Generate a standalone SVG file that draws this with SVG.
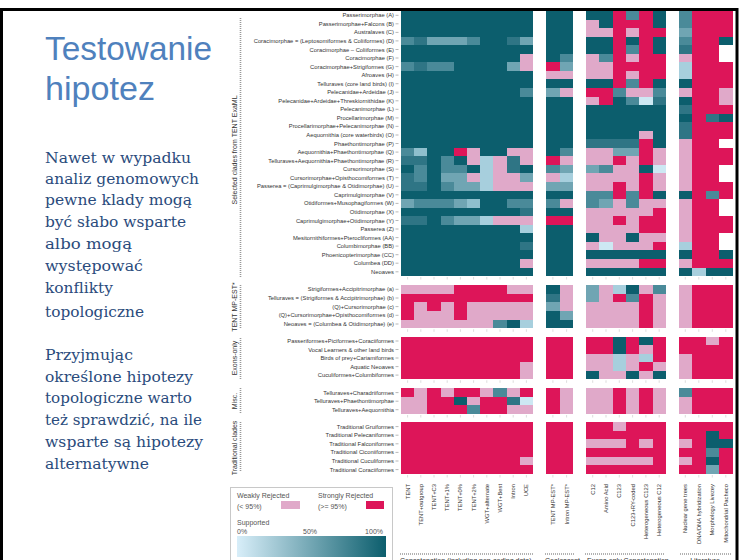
<svg xmlns="http://www.w3.org/2000/svg" xmlns:xlink="http://www.w3.org/1999/xlink" width="742" height="560" viewBox="0 0 742 560">
<style>
.t{fill:#0c5e6d}.md{fill:#2f7585}.m{fill:#4a8a99}.ml{fill:#70a5b3}.l2{fill:#8fbfcd}.lb{fill:#a7cfdd}.vl{fill:#cde8f3}.p{fill:#e0a9c9}.r{fill:#dd1559}.w{fill:#ffffff}
.title{font-family:"Liberation Sans",Arial,sans-serif;font-size:34px;fill:#4f81bd}
.body{font-family:"DejaVu Serif","Liberation Serif",serif;font-size:15px;fill:#2a4b7c}
.rl{font-family:"Liberation Sans",Arial,sans-serif;font-size:5.8px;fill:#333;text-anchor:end;dominant-baseline:central}
.sl{font-family:"Liberation Sans",Arial,sans-serif;font-size:7px;fill:#333;text-anchor:middle}
.cl{font-family:"Liberation Sans",Arial,sans-serif;font-size:5.8px;fill:#333;text-anchor:end}
.lg{font-family:"Liberation Sans",Arial,sans-serif;font-size:7px;fill:#555}
.gl{font-family:"Liberation Sans",Arial,sans-serif;font-size:7px;fill:#333}
.dot{stroke:#999;stroke-width:1.6;stroke-dasharray:1 1;fill:none}
.tick{stroke:#888;stroke-width:0.6;fill:none}
.ctick{stroke:#c4c4c4;stroke-width:0.6;fill:none}
</style>
<defs>
<linearGradient id="grad" x1="0" y1="0" x2="1" y2="0">
<stop offset="0" stop-color="#d8eef9"/>
<stop offset="1" stop-color="#0c5e6d"/>
</linearGradient>
<path id="ct" class="ctick" d="M407.6 0v2.5M420.8 0v2.5M434 0v2.5M447.2 0v2.5M460.4 0v2.5M473.6 0v2.5M486.8 0v2.5M500 0v2.5M513.2 0v2.5M526.4 0v2.5M552.9 0v2.5M566.6 0v2.5M592.7 0v2.5M606 0v2.5M619.3 0v2.5M632.6 0v2.5M645.9 0v2.5M659.2 0v2.5M685.3 0v2.5M698.8 0v2.5M712.3 0v2.5M725.8 0v2.5"/>
</defs>
<rect x="0" y="0" width="742" height="560" fill="#fff"/>
<rect x="1.5" y="9.5" width="735.5" height="600" fill="none" stroke="#000" stroke-width="3"/>

<g id="title">
<text class="title" x="45" y="60" textLength="167" lengthAdjust="spacingAndGlyphs">Testowanie</text>
<text class="title" x="45" y="100" textLength="110" lengthAdjust="spacingAndGlyphs">hipotez</text>
</g>
<g id="body-text">
<text class="body" x="45" y="163" textLength="146" lengthAdjust="spacingAndGlyphs">Nawet w wypadku</text>
<text class="body" x="45" y="184" textLength="154" lengthAdjust="spacingAndGlyphs">analiz genomowych</text>
<text class="body" x="45" y="205" textLength="147" lengthAdjust="spacingAndGlyphs">pewne klady mogą</text>
<text class="body" x="45" y="227" textLength="141" lengthAdjust="spacingAndGlyphs">być słabo wsparte</text>
<text class="body" x="45" y="249" textLength="87" lengthAdjust="spacingAndGlyphs">albo mogą</text>
<text class="body" x="45" y="271" textLength="98" lengthAdjust="spacingAndGlyphs">występować</text>
<text class="body" x="45" y="293" textLength="68" lengthAdjust="spacingAndGlyphs">konflikty</text>
<text class="body" x="45" y="317" textLength="99" lengthAdjust="spacingAndGlyphs">topologiczne</text>
<text class="body" x="45" y="360" textLength="88" lengthAdjust="spacingAndGlyphs">Przyjmując</text>
<text class="body" x="45" y="382" textLength="148" lengthAdjust="spacingAndGlyphs">określone hipotezy</text>
<text class="body" x="45" y="403" textLength="147" lengthAdjust="spacingAndGlyphs">topologiczne warto</text>
<text class="body" x="45" y="425" textLength="157" lengthAdjust="spacingAndGlyphs">też sprawdzić, na ile</text>
<text class="body" x="45" y="447" textLength="158" lengthAdjust="spacingAndGlyphs">wsparte są hipotezy</text>
<text class="body" x="45" y="469" textLength="104" lengthAdjust="spacingAndGlyphs">alternatywne</text>
</g>

<g id="section-labels">
<text class="sl" transform="translate(236.5,150) rotate(-90)">Selected clades from TENT ExaML</text>
<text class="sl" transform="translate(236.5,307) rotate(-90)">TENT MP-EST*</text>
<text class="sl" transform="translate(236.5,358) rotate(-90)">Exons-only</text>
<text class="sl" transform="translate(236.5,401) rotate(-90)">Misc.</text>
<text class="sl" transform="translate(236.5,448) rotate(-90)">Traditional clades</text>
<path class="dot" d="M240.5 18V277M240.5 285V329M240.5 338V380M240.5 388V414M240.5 422V472"/>
</g>

<g id="row-labels">
<text class="rl" x="394" y="15.3">Passerimorphae (A)</text>
<text class="rl" x="394" y="23.8">Passerimorphae+Falcons (B)</text>
<text class="rl" x="394" y="32.4">Australaves (C)</text>
<text class="rl" x="394" y="40.9">Coracimorphae = (Leptosomiformes &amp; Coliiformes) (D)</text>
<text class="rl" x="394" y="49.5">Coracimorphae – Coliiformes (E)</text>
<text class="rl" x="394" y="58.0">Coracimorphae (F)</text>
<text class="rl" x="394" y="66.6">Coracimorphae+Strigiformes (G)</text>
<text class="rl" x="394" y="75.1">Afroaves (H)</text>
<text class="rl" x="394" y="83.7">Telluraves (core land birds) (I)</text>
<text class="rl" x="394" y="92.2">Pelecanidae+Ardeidae (J)</text>
<text class="rl" x="394" y="100.8">Pelecanidae+Ardeidae+Threskiornithidae (K)</text>
<text class="rl" x="394" y="109.3">Pelecanimorphae (L)</text>
<text class="rl" x="394" y="117.9">Procellarimorphae (M)</text>
<text class="rl" x="394" y="126.4">Procellarimorphae+Pelecanimorphae (N)</text>
<text class="rl" x="394" y="135.0">Aequornithia (core waterbirds) (O)</text>
<text class="rl" x="394" y="143.5">Phaethontimorphae (P)</text>
<text class="rl" x="394" y="152.1">Aequornithia+Phaethontimorphae (Q)</text>
<text class="rl" x="394" y="160.6">Telluraves+Aequornithia+Phaethontimorphae (R)</text>
<text class="rl" x="394" y="169.2">Cursorimorphae (S)</text>
<text class="rl" x="394" y="177.7">Cursorimorphae+Opisthocomiformes (T)</text>
<text class="rl" x="394" y="186.3">Passerea = (Caprimulgimorphae &amp; Otidimorphae) (U)</text>
<text class="rl" x="394" y="194.8">Caprimulgimorphae (V)</text>
<text class="rl" x="394" y="203.4">Otidiformes+Musophagiformes (W)</text>
<text class="rl" x="394" y="211.9">Otidimorphae (X)</text>
<text class="rl" x="394" y="220.5">Caprimulgimorphae+Otidimorphae (Y)</text>
<text class="rl" x="394" y="229.0">Passerea (Z)</text>
<text class="rl" x="394" y="237.6">Mesitornithiformes+Pterocliformes (AA)</text>
<text class="rl" x="394" y="246.1">Columbimorphae (BB)</text>
<text class="rl" x="394" y="254.7">Phoenicopterimorphae (CC)</text>
<text class="rl" x="394" y="263.2">Columbea (DD)</text>
<text class="rl" x="394" y="271.8">Neoaves</text>
<text class="rl" x="394" y="289.3">Strigiformes+Accipitrimorphae (a)</text>
<text class="rl" x="394" y="298.0">Telluraves = (Strigiformes &amp; Accipitrimorphae) (b)</text>
<text class="rl" x="394" y="306.6">(Q)+Cursorimorphae (c)</text>
<text class="rl" x="394" y="315.3">(Q)+Cursorimorphae+Opisthocomiformes (d)</text>
<text class="rl" x="394" y="324.0">Neoaves = (Columbea &amp; Otidimorphae) (e)</text>
<text class="rl" x="394" y="341.0">Passeriformes+Piciformes+Coraciiformes</text>
<text class="rl" x="394" y="349.5">Vocal Learners &amp; other land birds</text>
<text class="rl" x="394" y="358.0">Birds of prey+Cariamiformes</text>
<text class="rl" x="394" y="366.6">Aquatic Neoaves</text>
<text class="rl" x="394" y="375.1">Cuculiformes+Columbiformes</text>
<text class="rl" x="394" y="392.6">Telluraves+Charadriiformes</text>
<text class="rl" x="394" y="401.2">Telluraves+Phaethontimorphae</text>
<text class="rl" x="394" y="409.7">Telluraves+Aequornithia</text>
<text class="rl" x="394" y="426.6">Traditional Gruiformes</text>
<text class="rl" x="394" y="435.2">Traditional Pelecaniformes</text>
<text class="rl" x="394" y="443.8">Traditional Falconiformes</text>
<text class="rl" x="394" y="452.4">Traditional Ciconiiformes</text>
<text class="rl" x="394" y="461.0">Traditional Cuculiformes</text>
<text class="rl" x="394" y="469.6">Traditional Coraciiformes</text>
<path class="tick" d="M395.5 15.3h3M395.5 23.8h3M395.5 32.4h3M395.5 40.9h3M395.5 49.5h3M395.5 58h3M395.5 66.6h3M395.5 75.1h3M395.5 83.7h3M395.5 92.2h3M395.5 100.8h3M395.5 109.3h3M395.5 117.9h3M395.5 126.4h3M395.5 135h3M395.5 143.5h3M395.5 152.1h3M395.5 160.6h3M395.5 169.2h3M395.5 177.7h3M395.5 186.3h3M395.5 194.8h3M395.5 203.4h3M395.5 211.9h3M395.5 220.5h3M395.5 229h3M395.5 237.6h3M395.5 246.1h3M395.5 254.7h3M395.5 263.2h3M395.5 271.8h3M395.5 289.3h3M395.5 298h3M395.5 306.6h3M395.5 315.3h3M395.5 324h3M395.5 341h3M395.5 349.5h3M395.5 358h3M395.5 366.6h3M395.5 375.1h3M395.5 392.6h3M395.5 401.2h3M395.5 409.7h3M395.5 426.6h3M395.5 435.2h3M395.5 443.8h3M395.5 452.4h3M395.5 461h3M395.5 469.6h3"/>
</g>

<g id="column-ticks">
<use xlink:href="#ct" href="#ct" y="277"/>
<use xlink:href="#ct" href="#ct" y="329.3"/>
<use xlink:href="#ct" href="#ct" y="380.3"/>
<use xlink:href="#ct" href="#ct" y="415"/>
<use xlink:href="#ct" href="#ct" y="475"/>
</g>

<g id="heatmap" shape-rendering="crispEdges">
<!-- Section 1 -->
<g transform="translate(401,11) scale(13.2,8.55)">
<rect class="t" width="10" height="31"/>
<rect class="m" x="0" y="3" width="1" height="1"/><rect class="md" x="1" y="3" width="1" height="1"/><rect class="ml" x="2" y="3" width="3" height="1"/><rect class="m" x="5" y="3" width="1" height="1"/><rect class="md" x="8" y="3" width="1" height="1"/><rect class="ml" x="9" y="3" width="1" height="1"/>
<rect class="p" x="9" y="5" width="1" height="2"/>
<rect class="m" x="0" y="6" width="1" height="1"/><rect class="md" x="1" y="6" width="1" height="1"/><rect class="m" x="2" y="6" width="2" height="1"/><rect class="ml" x="8" y="6" width="1" height="1"/>
<rect class="m" x="9" y="9" width="1" height="1"/>
<rect class="m" x="0" y="16" width="1" height="1"/><rect class="l2" x="1" y="16" width="1" height="1"/><rect class="r" x="4" y="16" width="1" height="1"/><rect class="p" x="5" y="16" width="1" height="2"/><rect class="p" x="8" y="16" width="2" height="1"/>
<rect class="md" x="0" y="17" width="2" height="1"/><rect class="m" x="3" y="17" width="1" height="1"/><rect class="lb" x="6" y="17" width="1" height="4"/><rect class="p" x="7" y="17" width="1" height="4"/><rect class="md" x="8" y="17" width="1" height="2"/><rect class="p" x="9" y="17" width="1" height="1"/>
<rect class="m" x="1" y="18" width="1" height="1"/><rect class="m" x="3" y="18" width="2" height="1"/>
<rect class="md" x="0" y="19" width="1" height="1"/><rect class="m" x="1" y="19" width="1" height="1"/><rect class="ml" x="3" y="19" width="2" height="1"/><rect class="p" x="5" y="19" width="1" height="1"/><rect class="p" x="8" y="19" width="1" height="2"/><rect class="ml" x="9" y="19" width="1" height="1"/>
<rect class="md" x="0" y="20" width="2" height="1"/><rect class="m" x="3" y="20" width="1" height="1"/><rect class="ml" x="4" y="20" width="2" height="1"/><rect class="p" x="9" y="20" width="1" height="1"/>
<rect class="ml" x="0" y="22" width="1" height="1"/><rect class="m" x="1" y="22" width="3" height="1"/><rect class="ml" x="4" y="22" width="1" height="1"/><rect class="l2" x="5" y="22" width="1" height="1"/><rect class="m" x="8" y="22" width="2" height="1"/>
<rect class="md" x="9" y="23" width="1" height="1"/>
<rect class="md" x="0" y="24" width="2" height="1"/><rect class="m" x="3" y="24" width="1" height="1"/><rect class="ml" x="4" y="24" width="2" height="1"/><rect class="lb" x="6" y="24" width="1" height="1"/><rect class="p" x="7" y="24" width="3" height="1"/>
<rect class="lb" x="9" y="25" width="1" height="1"/>
<rect class="md" x="9" y="27" width="1" height="1"/>
<rect class="p" x="9" y="29" width="1" height="1"/>
</g>
<g transform="translate(546,11) scale(13.7,8.55)">
<rect class="t" width="2" height="31"/>
<rect class="m" x="1" y="5" width="1" height="1"/><rect class="r" x="0" y="6" width="1" height="1"/><rect class="ml" x="1" y="6" width="1" height="1"/><rect class="p" x="0" y="7" width="2" height="1"/>
<rect class="ml" x="0" y="9" width="1" height="1"/><rect class="p" x="1" y="9" width="1" height="1"/>
<rect class="m" x="1" y="16" width="1" height="1"/><rect class="r" x="0" y="17" width="1" height="1"/><rect class="p" x="1" y="17" width="1" height="1"/>
<rect class="m" x="0" y="18" width="1" height="1"/><rect class="ml" x="1" y="18" width="1" height="1"/><rect class="p" x="0" y="19" width="1" height="1"/><rect class="lb" x="1" y="19" width="1" height="1"/>
<rect class="ml" x="0" y="20" width="2" height="1"/><rect class="m" x="0" y="22" width="1" height="1"/><rect class="p" x="1" y="22" width="1" height="1"/><rect class="r" x="0" y="24" width="2" height="1"/>
</g>
<g transform="translate(586,11) scale(13.3,8.55)">
<rect class="t" width="6" height="31"/>
<rect class="r" x="2" y="0" width="1" height="9"/><rect class="r" x="4" y="0" width="1" height="9"/>
<rect class="m" x="3" y="0" width="1" height="1"/>
<rect class="p" x="0" y="1" width="1" height="2"/><rect class="r" x="3" y="1" width="1" height="1"/>
<rect class="p" x="1" y="2" width="1" height="1"/><rect class="p" x="3" y="2" width="1" height="1"/><rect class="r" x="5" y="2" width="1" height="1"/>
<rect class="m" x="3" y="4" width="1" height="1"/>
<rect class="p" x="0" y="5" width="1" height="3"/><rect class="m" x="1" y="5" width="1" height="1"/><rect class="p" x="1" y="6" width="1" height="2"/><rect class="p" x="3" y="5" width="1" height="1"/><rect class="r" x="3" y="6" width="1" height="1"/><rect class="p" x="3" y="7" width="1" height="1"/><rect class="r" x="5" y="5" width="1" height="3"/>
<rect class="m" x="3" y="8" width="1" height="1"/>
<rect class="r" x="0" y="9" width="2" height="1"/><rect class="m" x="2" y="9" width="1" height="1"/><rect class="p" x="3" y="9" width="2" height="1"/><rect class="m" x="5" y="9" width="1" height="1"/>
<rect class="p" x="0" y="10" width="1" height="1"/><rect class="r" x="1" y="10" width="1" height="1"/><rect class="m" x="3" y="10" width="1" height="1"/><rect class="vl" x="4" y="10" width="1" height="1"/><rect class="md" x="5" y="10" width="1" height="1"/>
<rect class="p" x="4" y="14" width="1" height="1"/>
<rect class="md" x="0" y="15" width="4" height="1"/><rect class="r" x="4" y="15" width="1" height="3"/>
<rect class="p" x="0" y="16" width="2" height="2"/><rect class="ml" x="2" y="16" width="2" height="1"/><rect class="p" x="5" y="16" width="1" height="2"/>
<rect class="r" x="2" y="17" width="1" height="1"/><rect class="p" x="3" y="17" width="1" height="1"/>
<rect class="ml" x="0" y="18" width="1" height="1"/><rect class="m" x="1" y="18" width="1" height="1"/><rect class="p" x="2" y="18" width="2" height="1"/><rect class="vl" x="5" y="18" width="1" height="1"/>
<rect class="p" x="0" y="19" width="4" height="2"/><rect class="r" x="4" y="19" width="1" height="3"/><rect class="p" x="5" y="19" width="1" height="2"/><rect class="r" x="2" y="20" width="1" height="2"/>
<rect class="m" x="0" y="21" width="2" height="1"/><rect class="m" x="3" y="21" width="1" height="1"/>
<rect class="m" x="0" y="22" width="1" height="1"/><rect class="ml" x="1" y="22" width="1" height="1"/><rect class="p" x="2" y="22" width="1" height="1"/><rect class="m" x="3" y="22" width="1" height="1"/><rect class="p" x="4" y="22" width="2" height="1"/>
<rect class="p" x="0" y="23" width="5" height="1"/><rect class="r" x="5" y="23" width="1" height="3"/>
<rect class="p" x="0" y="24" width="2" height="2"/><rect class="r" x="2" y="24" width="1" height="1"/><rect class="p" x="3" y="24" width="1" height="2"/><rect class="r" x="4" y="24" width="1" height="2"/><rect class="p" x="2" y="25" width="1" height="1"/>
<rect class="p" x="1" y="26" width="2" height="1"/><rect class="p" x="4" y="26" width="2" height="1"/>
<rect class="p" x="0" y="27" width="1" height="1"/><rect class="vl" x="1" y="27" width="1" height="1"/><rect class="p" x="2" y="27" width="3" height="1"/><rect class="r" x="5" y="27" width="1" height="1"/>
<rect class="p" x="0" y="29" width="4" height="1"/><rect class="r" x="4" y="29" width="2" height="1"/>
</g>
<g transform="translate(678.5,11) scale(13.5,8.55)">
<rect class="r" width="4" height="31"/>
<rect class="m" x="0" y="0" width="1" height="2"/><rect class="ml" x="0" y="2" width="1" height="1"/><rect class="m" x="0" y="3" width="1" height="1"/><rect class="md" x="0" y="4" width="1" height="1"/><rect class="p" x="0" y="5" width="1" height="1"/><rect class="lb" x="0" y="6" width="1" height="2"/><rect class="t" x="0" y="8" width="1" height="1"/><rect class="p" x="0" y="9" width="1" height="1"/><rect class="t" x="0" y="10" width="1" height="1"/><rect class="md" x="0" y="11" width="1" height="1"/><rect class="t" x="0" y="12" width="1" height="1"/><rect class="md" x="0" y="13" width="1" height="2"/><rect class="p" x="0" y="15" width="1" height="6"/><rect class="t" x="0" y="21" width="1" height="1"/><rect class="p" x="0" y="22" width="1" height="5"/><rect class="lb" x="0" y="27" width="1" height="1"/><rect class="t" x="0" y="28" width="1" height="1"/><rect class="p" x="0" y="29" width="1" height="1"/><rect class="t" x="0" y="30" width="1" height="1"/>
<rect class="lb" x="1" y="30" width="1" height="1"/><rect class="md" x="2" y="12" width="1" height="1"/><rect class="m" x="2" y="21" width="1" height="1"/><rect class="t" x="2" y="30" width="2" height="1"/>
<rect class="t" x="3" y="3" width="1" height="1"/><rect class="w" x="3" y="4" width="1" height="2"/><rect class="p" x="3" y="9" width="1" height="2"/><rect class="t" x="3" y="12" width="1" height="1"/><rect class="w" x="3" y="15" width="1" height="1"/><rect class="w" x="3" y="18" width="1" height="2"/><rect class="w" x="3" y="22" width="1" height="2"/><rect class="w" x="3" y="26" width="1" height="2"/><rect class="t" x="3" y="28" width="1" height="1"/>
</g>
<!-- Section 2 -->
<g transform="translate(401,285) scale(13.2,8.66)">
<rect class="p" width="10" height="5"/>
<rect class="r" x="4" y="0" width="4" height="1"/><rect class="r" x="0" y="1" width="10" height="1"/><rect class="r" x="0" y="2" width="1" height="2"/><rect class="r" x="2" y="2" width="1" height="1"/><rect class="r" x="4" y="2" width="1" height="2"/>
<rect class="m" x="7" y="4" width="1" height="1"/><rect class="t" x="8" y="4" width="1" height="1"/><rect class="lb" x="9" y="4" width="1" height="1"/>
</g>
<g transform="translate(546,285) scale(13.7,8.66)">
<rect class="t" width="2" height="5"/>
<rect class="md" x="0" y="1" width="1" height="1"/><rect class="ml" x="0" y="2" width="1" height="1"/><rect class="p" x="1" y="0" width="1" height="3"/><rect class="ml" x="1" y="3" width="1" height="1"/>
</g>
<g transform="translate(586,285) scale(13.3,8.66)">
<rect class="p" width="6" height="5"/>
<rect class="ml" x="0" y="0" width="1" height="2"/><rect class="lb" x="2" y="0" width="1" height="1"/><rect class="t" x="3" y="0" width="1" height="1"/><rect class="m" x="5" y="0" width="1" height="1"/>
<rect class="r" x="2" y="1" width="1" height="1"/><rect class="m" x="3" y="1" width="1" height="1"/><rect class="r" x="4" y="1" width="1" height="4"/>
</g>
<g transform="translate(678.5,285) scale(13.5,8.66)">
<rect class="r" width="4" height="5"/><rect class="p" width="1" height="5"/>
</g>
<!-- Section 3 -->
<g transform="translate(401,336.7) scale(13.2,8.53)">
<rect class="r" width="10" height="5"/><rect class="p" x="9" y="3" width="1" height="2"/>
</g>
<g transform="translate(546,336.7) scale(13.7,8.53)">
<rect class="r" width="2" height="5"/>
</g>
<g transform="translate(586,336.7) scale(13.3,8.53)">
<rect class="r" width="6" height="5"/>
<rect class="t" x="2" y="0" width="1" height="2"/><rect class="t" x="4" y="0" width="1" height="1"/><rect class="p" x="4" y="1" width="1" height="1"/>
<rect class="p" x="0" y="2" width="2" height="2"/><rect class="lb" x="2" y="2" width="1" height="2"/><rect class="p" x="3" y="2" width="1" height="2"/><rect class="lb" x="4" y="2" width="1" height="1"/><rect class="p" x="5" y="3" width="1" height="1"/>
<rect class="t" x="0" y="4" width="1" height="1"/><rect class="p" x="1" y="4" width="2" height="1"/><rect class="t" x="3" y="4" width="1" height="1"/><rect class="p" x="4" y="4" width="1" height="1"/><rect class="t" x="5" y="4" width="1" height="1"/>
</g>
<g transform="translate(678.5,336.7) scale(13.5,8.53)">
<rect class="r" width="4" height="5"/><rect class="p" x="0" y="2" width="1" height="3"/><rect class="p" x="2" y="0" width="1" height="1"/>
</g>
<!-- Section 4 -->
<g transform="translate(401,388.3) scale(13.2,8.57)">
<rect class="p" width="10" height="3"/>
<rect class="r" x="0" y="0" width="1" height="1"/><rect class="r" x="2" y="0" width="1" height="3"/><rect class="r" x="4" y="0" width="2" height="1"/><rect class="m" x="7" y="0" width="1" height="1"/><rect class="r" x="9" y="0" width="1" height="1"/>
<rect class="r" x="3" y="1" width="1" height="2"/><rect class="t" x="4" y="1" width="1" height="1"/><rect class="r" x="6" y="1" width="2" height="2"/><rect class="md" x="8" y="1" width="1" height="1"/><rect class="vl" x="9" y="1" width="1" height="1"/>
<rect class="r" x="4" y="2" width="1" height="1"/><rect class="m" x="5" y="2" width="1" height="1"/>
</g>
<g transform="translate(546,388.3) scale(13.7,8.57)">
<rect class="p" width="2" height="3"/><rect class="r" width="1" height="3"/>
</g>
<g transform="translate(586,388.3) scale(13.3,8.57)">
<rect class="p" width="6" height="3"/><rect class="r" x="2" width="1" height="3"/><rect class="r" x="4" width="1" height="3"/>
</g>
<g transform="translate(678.5,388.3) scale(13.5,8.57)">
<rect class="r" width="4" height="3"/><rect class="m" width="1" height="1"/><rect class="p" y="1" width="1" height="2"/>
</g>
<!-- Section 5 -->
<g transform="translate(401,422.3) scale(13.2,8.6)">
<rect class="r" width="10" height="6"/><rect class="p" x="9" y="4" width="1" height="1"/>
</g>
<g transform="translate(546,422.3) scale(13.7,8.6)">
<rect class="r" width="2" height="6"/>
</g>
<g transform="translate(586,422.3) scale(13.3,8.6)">
<rect class="r" width="6" height="6"/><rect class="p" x="2" y="0" width="1" height="1"/><rect class="p" x="0" y="2" width="3" height="1"/><rect class="p" x="4" y="2" width="1" height="1"/><rect class="p" x="0" y="4" width="5" height="1"/>
</g>
<g transform="translate(678.5,422.3) scale(13.5,8.6)">
<rect class="r" width="4" height="6"/><rect class="t" x="2" y="1" width="1" height="1"/><rect class="p" x="0" y="2" width="1" height="1"/><rect class="t" x="2" y="2" width="2" height="1"/><rect class="m" x="2" y="3" width="1" height="1"/><rect class="p" x="0" y="4" width="1" height="1"/><rect class="t" x="2" y="4" width="1" height="1"/><rect class="ml" x="2" y="5" width="1" height="1"/>
</g>
</g>

<g id="column-labels">
<text class="cl" transform="translate(409.6,484) rotate(-90)">TENT</text>
<text class="cl" transform="translate(422.8,484) rotate(-90)">TENT+outgroup</text>
<text class="cl" transform="translate(436,484) rotate(-90)">TENT+C3</text>
<text class="cl" transform="translate(449.2,484) rotate(-90)">TENT+1%</text>
<text class="cl" transform="translate(462.4,484) rotate(-90)">TENT+0%</text>
<text class="cl" transform="translate(475.6,484) rotate(-90)">TENT+2%</text>
<text class="cl" transform="translate(488.8,484) rotate(-90)">WGT+alternate</text>
<text class="cl" transform="translate(502,484) rotate(-90)">WGT+Best</text>
<text class="cl" transform="translate(515.2,484) rotate(-90)">Intron</text>
<text class="cl" transform="translate(528.4,484) rotate(-90)">UCE</text>
<text class="cl" transform="translate(554.9,484) rotate(-90)">TENT MP-EST*</text>
<text class="cl" transform="translate(568.6,484) rotate(-90)">Intron MP-EST*</text>
<text class="cl" transform="translate(594.7,484) rotate(-90)">C12</text>
<text class="cl" transform="translate(608,484) rotate(-90)">Amino Acid</text>
<text class="cl" transform="translate(621.3,484) rotate(-90)">C123</text>
<text class="cl" transform="translate(634.6,484) rotate(-90)">C123+RY-coded</text>
<text class="cl" transform="translate(647.9,484) rotate(-90)">Heterogeneous C123</text>
<text class="cl" transform="translate(661.2,484) rotate(-90)">Heterogeneous C12</text>
<text class="cl" transform="translate(687.3,484) rotate(-90)">Nuclear gene trees</text>
<text class="cl" transform="translate(700.8,484) rotate(-90)">DNA/DNA hybridization</text>
<text class="cl" transform="translate(714.3,484) rotate(-90)">Morphology Livezey</text>
<text class="cl" transform="translate(727.8,484) rotate(-90)">Mitochondrial Pacheco</text>
</g>

<g id="group-labels">
<path class="dot" d="M400 554H533M545 554H575M585 554H664M680 554H731"/>
<text class="gl" x="400" y="563">Concatenation (including non-coding data)</text>
<text class="gl" x="545" y="563">Coalescent</text>
<text class="gl" x="587" y="563">Exons-only Concatenation</text>
<text class="gl" x="705" y="563" text-anchor="middle">Literature</text>
</g>

<g id="legend">
<rect x="230.5" y="487.5" width="162" height="80" fill="#fff" stroke="#c8c8c8" stroke-width="1"/>
<text class="lg" x="237" y="498">Weakly Rejected</text>
<text class="lg" x="237" y="509">(&lt; 95%)</text>
<rect class="p" x="281" y="501" width="19" height="8"/>
<text class="lg" x="318" y="498">Strongly Rejected</text>
<text class="lg" x="318" y="509">(&gt;= 95%)</text>
<rect class="r" x="366" y="501" width="18" height="8"/>
<text class="lg" x="237" y="525">Supported</text>
<text class="lg" x="237" y="533.5">0%</text>
<text class="lg" x="303" y="533.5">50%</text>
<text class="lg" x="383" y="533.5" text-anchor="end">100%</text>
<rect x="237" y="536" width="149" height="21" fill="url(#grad)"/>
</g>
</svg>
